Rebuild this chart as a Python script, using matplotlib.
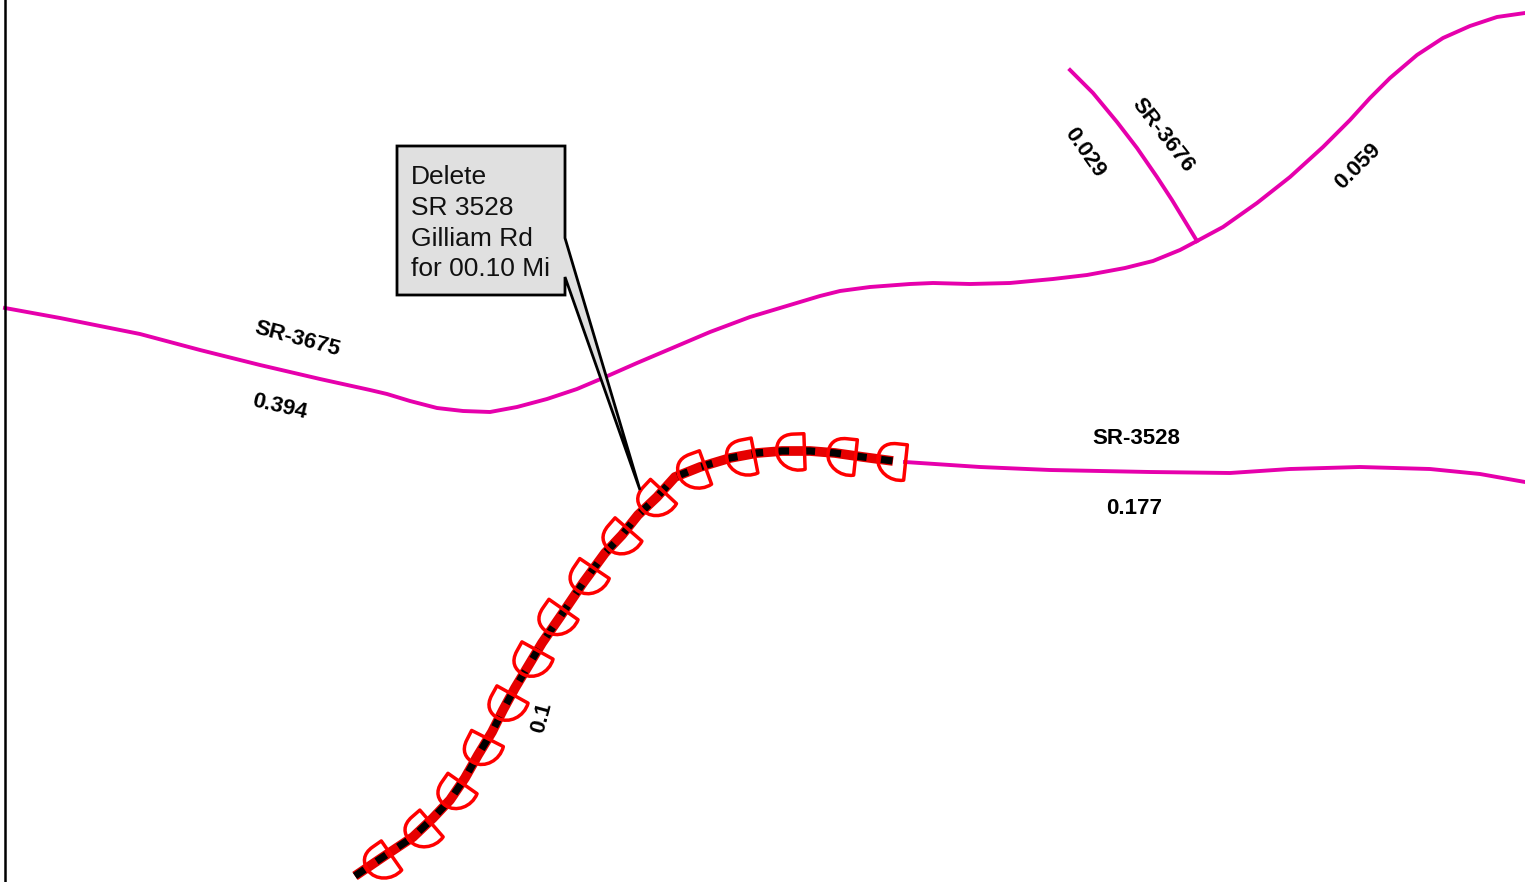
import matplotlib
matplotlib.use('Agg')
import matplotlib.pyplot as plt
from matplotlib.markers import MarkerStyle
from matplotlib.path import Path
from matplotlib.patches import Polygon
from matplotlib.transforms import Affine2D

plt.rcParams['font.family'] = ['Liberation Sans', 'DejaVu Sans']

# road centre lines (x to the right, y downwards)
sr3675_x = [5, 60, 140, 200, 260, 320, 370, 387, 410, 437, 463, 490, 517, 547, 577, 603, 637, 670,
            710, 750, 790, 820, 840, 870, 910, 933, 970, 1010, 1053, 1087, 1125, 1153, 1180, 1197,
            1223, 1257, 1290, 1323, 1350, 1370, 1390, 1417, 1443, 1470, 1497, 1525]
sr3675_y = [308, 318, 334, 350, 365, 379, 390, 394, 401, 408, 411, 412, 407, 399, 389, 378, 363, 349,
            332, 317, 305, 296, 291, 287, 284, 283, 284, 283, 279, 275, 268, 261, 250, 241,
            227, 203, 177, 147, 120, 98, 78, 55, 38, 26, 17, 13]
sr3676_x = [1070, 1093, 1117, 1137, 1157, 1172, 1197]
sr3676_y = [70, 93, 122, 148, 177, 200, 241]
sr3528_x = [905, 980, 1050, 1150, 1230, 1290, 1360, 1430, 1480, 1525]
sr3528_y = [462, 467, 470, 472, 473, 469, 467, 469, 474, 482]
deleted_x = [355, 383, 413, 433, 450, 465, 478, 492, 503, 515, 530, 542, 560, 583, 605, 622, 638,
             657, 675, 700, 730, 757, 782, 810, 835, 863, 893]
deleted_y = [876, 857, 837, 818, 800, 778, 755, 732, 710, 688, 663, 643, 617, 583, 553, 535, 515,
             497, 477, 467, 458, 453, 451, 451, 453, 457, 461]

# D shaped symbols along the deleted section
sym_x = [391, 431, 462, 487, 512, 537, 563, 594, 628, 663, 705, 754, 804, 855, 905]
sym_y = [855, 823, 783, 738, 694, 650, 609, 568, 529, 491, 467, 455, 451, 457, 462]
sym_angle = [35, 41, 55, 63, 61, 61, 55, 56, 49, 47, 20, 11, 2, -6, -6]

# callout
box_x = [397, 565, 565, 640, 565, 565, 397]
box_y = [146, 146, 238, 490, 277, 295, 295]
note_lines = ['Delete', 'SR 3528', 'Gilliam Rd', 'for 00.10 Mi']
note_x = 411
note_y = [184, 215, 246, 276]

# map labels: text, x, y, rotation
labels = ['SR-3675', '0.394', 'SR-3676', '0.029', '0.059', 'SR-3528', '0.177', '0.1']
label_x = [297, 280, 1163, 1085, 1358, 1136, 1134, 542]
label_y = [339, 407, 135, 153, 166, 438, 508, 718]
label_rot = [-15, -13, -52, -55, 45, 0, 0, 75]

fig = plt.figure(figsize=(15.25, 8.82), dpi=100)
ax = fig.add_axes([0, 0, 1, 1])
ax.set_xlim(0, 1525)
ax.set_ylim(882, 0)
ax.axis('off')

magenta = '#E600AC'
ax.plot(sr3675_x, sr3675_y, color=magenta, lw=2.8, zorder=2)
ax.plot(sr3676_x, sr3676_y, color=magenta, lw=2.8, zorder=2)
ax.plot(sr3528_x, sr3528_y, color=magenta, lw=2.8, zorder=2)

# frame line on the left
ax.axvline(5, color='black', lw=1.8, zorder=2)

ax.plot(deleted_x, deleted_y, color='#E60000', lw=7, solid_capstyle='butt', zorder=3)
ax.plot(deleted_x, deleted_y, color='black', lw=5.2, linestyle=(0, (1.6, 2.0)),
        dash_capstyle='butt', zorder=4)

# flat side faces along the road, rounded behind
d_path = Path([(0, -0.64), (0, 0.64), (-0.38, 0.64), (-0.82, 0.64), (-1, 0.38), (-1, 0.05), (-1, -0.4), (-0.5, -0.76), (0, -0.64), (0, -0.64)],
              [Path.MOVETO, Path.LINETO, Path.LINETO, Path.CURVE4, Path.CURVE4, Path.CURVE4, Path.CURVE4, Path.CURVE4, Path.CURVE4, Path.CLOSEPOLY])
for x, y, a in zip(sym_x, sym_y, sym_angle):
    m = MarkerStyle(d_path, transform=Affine2D().rotate_deg(a))
    ax.plot([x], [y], marker=m, ms=40, mfc='none', mec='#FF0000', mew=2.5, ls='none', zorder=5)

ax.add_patch(Polygon(list(zip(box_x, box_y)), closed=True, fc='#E0E0E0', ec='black', lw=2,
                     joinstyle='miter', zorder=6))
for line, y in zip(note_lines, note_y):
    ax.text(note_x, y, line, fontsize=19, color='#111111', ha='left', va='baseline', zorder=7)

for s, x, y, r in zip(labels, label_x, label_y, label_rot):
    ax.text(x, y, s, fontsize=16, fontweight='bold', color='black', ha='center', va='center',
            rotation=r, rotation_mode='anchor', zorder=7)

fig.savefig('out.png', dpi=100)
